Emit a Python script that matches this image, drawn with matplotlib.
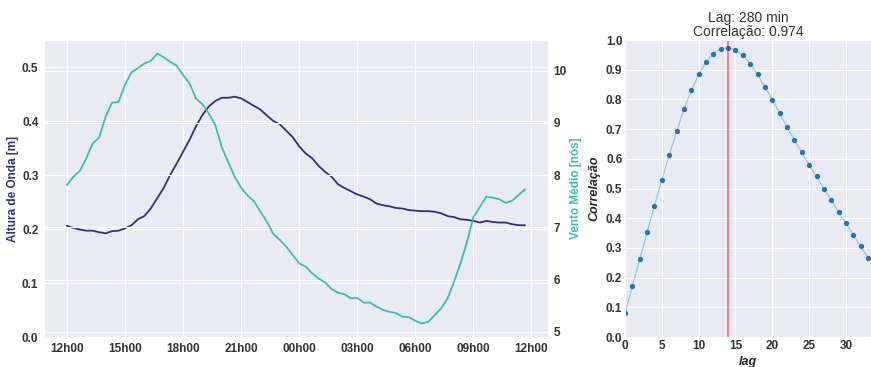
import numpy as np
import matplotlib
matplotlib.use("Agg")
import matplotlib.pyplot as plt
import seaborn as sns

# Series sampled every 20 min starting at 12h00
wave_height = [
    0.206, 0.202, 0.199, 0.197, 0.197, 0.194, 0.192, 0.196, 0.197, 0.201,
    0.207, 0.218, 0.224, 0.238, 0.257, 0.276, 0.300, 0.321, 0.343, 0.365,
    0.390, 0.411, 0.427, 0.437, 0.443, 0.443, 0.445, 0.442, 0.435, 0.428,
    0.421, 0.410, 0.400, 0.394, 0.382, 0.370, 0.353, 0.340, 0.331, 0.317,
    0.306, 0.297, 0.283, 0.276, 0.270, 0.264, 0.260, 0.255, 0.247, 0.244,
    0.242, 0.239, 0.238, 0.235, 0.234, 0.233, 0.233, 0.232, 0.229, 0.224,
    0.222, 0.218, 0.217, 0.215, 0.212, 0.215, 0.213, 0.212, 0.212, 0.209,
    0.207, 0.207,
]
wind_speed = [
    7.81, 7.97, 8.08, 8.32, 8.61, 8.72, 9.12, 9.39, 9.40, 9.73,
    9.97, 10.05, 10.14, 10.19, 10.33, 10.26, 10.17, 10.10, 9.92, 9.76,
    9.47, 9.36, 9.18, 8.96, 8.54, 8.25, 7.97, 7.76, 7.61, 7.50,
    7.30, 7.11, 6.87, 6.76, 6.63, 6.47, 6.31, 6.25, 6.12, 6.02,
    5.95, 5.82, 5.75, 5.72, 5.64, 5.65, 5.56, 5.56, 5.48, 5.42,
    5.38, 5.36, 5.29, 5.28, 5.21, 5.16, 5.19, 5.32, 5.45, 5.64,
    5.96, 6.31, 6.72, 7.20, 7.39, 7.59, 7.57, 7.54, 7.47, 7.51,
    7.62, 7.73,
]
hour_labels = ["12h00", "15h00", "18h00", "21h00", "00h00",
               "03h00", "06h00", "09h00", "12h00"]

lags = list(range(34))
correlation = [
    0.081, 0.171, 0.263, 0.352, 0.442, 0.529, 0.612, 0.692, 0.768, 0.830,
    0.884, 0.926, 0.954, 0.971, 0.974, 0.967, 0.949, 0.920, 0.884, 0.842,
    0.798, 0.753, 0.706, 0.663, 0.622, 0.580, 0.541, 0.499, 0.461, 0.422,
    0.383, 0.343, 0.305, 0.267,
]
best_lag = 14
lag_minutes = 20

NAVY = "#332e80"
TEAL = "#3dbdae"
TICK_COLOR = "#333333"

sns.set_style("darkgrid")
plt.rcParams["font.family"] = ["Liberation Sans", "DejaVu Sans"]


def style_ticks(ax):
    for lbl in ax.get_xticklabels() + ax.get_yticklabels():
        lbl.set_fontweight("bold")
        lbl.set_fontsize(8.5)
        lbl.set_color(TICK_COLOR)
    ax.tick_params(length=0, pad=4)


fig = plt.figure(figsize=(8.71, 3.67), dpi=100)
ax1 = fig.add_axes([0.0505, 0.0817, 0.5786, 0.8093])
ax2 = ax1.twinx()
ax3 = fig.add_axes([0.7176, 0.0817, 0.2824, 0.8093])

# left: wave height and wind on twin axes
hours = np.arange(len(wave_height)) * lag_minutes / 60
ax1.plot(hours, wave_height, color=NAVY, lw=1.3)
ax2.plot(hours, wind_speed, color=TEAL, lw=1.3)
ax1.set_ylim(0, 0.55)
ax2.set_ylim(4.9, 10.59)
ax1.set_xticks(np.arange(0, 25, 3))
ax1.set_xticklabels(hour_labels)
ax1.set_ylabel("Altura de Onda [m]", color=NAVY, fontweight="bold", fontsize=8.5,
               labelpad=2)
ax2.set_ylabel("Vento Médio [nós]", color=TEAL, fontweight="bold", fontsize=8.5,
               labelpad=2)
for ax in (ax1, ax2):
    style_ticks(ax)

# right: cross-correlation by lag
ax3.plot(lags, correlation, color="#1f77b4", alpha=0.35, lw=0.9)
ax3.plot(lags, correlation, "o", color="#1f77b4", ms=2.8)
ax3.axvline(best_lag, color="red", alpha=0.5, lw=1.3)
ax3.set_xlim(0, 33.4)
ax3.set_ylim(0, 1.0)
ax3.set_yticks(np.arange(0, 1.01, 0.1))
ax3.set_xticks(np.arange(0, 31, 5))
style_ticks(ax3)
ax3.tick_params(pad=2)
ax3.set_xlabel("lag", fontweight="bold", fontstyle="italic", fontsize=9, labelpad=3)
ax3.set_ylabel("Correlação", fontweight="bold", fontstyle="italic", fontsize=9,
               labelpad=4)
ax3.set_title(f"Lag: {best_lag * lag_minutes} min\nCorrelação: {max(correlation):.3f}",
              fontsize=10, color=TICK_COLOR, pad=3, linespacing=1.0)

fig.savefig("out.png", dpi=100)
